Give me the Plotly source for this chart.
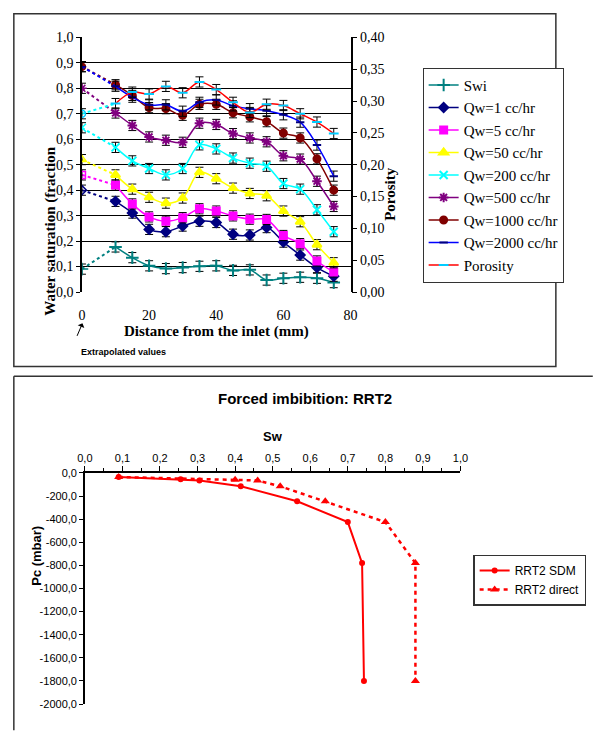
import plotly.graph_objects as go

W, H = 595, 731

# top chart: water saturation profiles along the core
DIST = [10, 15, 20, 25, 30, 35, 40, 45, 50, 55, 60, 65, 70, 75]
SWI = [0.177, 0.135, 0.103, 0.092, 0.096, 0.101, 0.103, 0.085, 0.087, 0.047, 0.054, 0.058, 0.054, 0.037]
QW1 = [0.356, 0.310, 0.246, 0.237, 0.259, 0.278, 0.273, 0.227, 0.224, 0.253, 0.196, 0.145, 0.096, 0.062]
QW5 = [0.420, 0.346, 0.295, 0.278, 0.292, 0.327, 0.318, 0.299, 0.286, 0.285, 0.222, 0.190, 0.122, 0.079]
QW50 = [0.460, 0.404, 0.372, 0.349, 0.369, 0.470, 0.445, 0.408, 0.387, 0.378, 0.318, 0.276, 0.186, 0.115]
QW200 = [0.568, 0.515, 0.485, 0.460, 0.485, 0.578, 0.562, 0.526, 0.506, 0.494, 0.426, 0.404, 0.323, 0.237]
QW500 = [0.703, 0.654, 0.609, 0.596, 0.588, 0.663, 0.658, 0.622, 0.605, 0.590, 0.535, 0.522, 0.435, 0.336]
QW1000 = [0.814, 0.772, 0.724, 0.720, 0.694, 0.737, 0.737, 0.704, 0.688, 0.669, 0.624, 0.605, 0.523, 0.400]
QW2000 = [0.808, 0.765, 0.735, 0.735, 0.710, 0.745, 0.754, 0.731, 0.720, 0.712, 0.696, 0.667, 0.577, 0.455]
POROSITY = [0.296, 0.314, 0.311, 0.323, 0.313, 0.330, 0.318, 0.298, 0.282, 0.295, 0.293, 0.280, 0.267, 0.249]

# extrapolated values at the inlet (x = 0)
EXTRAP = {
    "Swi": 0.09, "Qw=1 cc/hr": 0.40, "Qw=5 cc/hr": 0.46, "Qw=50 cc/hr": 0.52,
    "Qw=200 cc/hr": 0.645, "Qw=500 cc/hr": 0.80, "Qw=1000 cc/hr": 0.885,
    "Qw=2000 cc/hr": 0.885, "Porosity": 0.28,
}

# bottom chart: forced imbibition capillary pressure
SDM_SW = [0.09, 0.255, 0.305, 0.415, 0.565, 0.700, 0.738, 0.743]
SDM_PC = [-35, -55, -65, -115, -245, -425, -780, -1800]
DIR_SW = [0.09, 0.40, 0.46, 0.52, 0.64, 0.80, 0.88, 0.88]
DIR_PC = [-35, -60, -65, -115, -245, -425, -780, -1800]
PC_TICKS = list(range(0, -2001, -200))
PC_LABELS = [f"{v:.1f}".replace(".", ",") for v in PC_TICKS]

SERIES = [
    ("Swi", SWI, "#008080", "#008080", "cross-thin-open", 9),
    ("Qw=1 cc/hr", QW1, "#000080", "#000080", "diamond", 7),
    ("Qw=5 cc/hr", QW5, "#ff00ff", "#ff00ff", "square", 7),
    ("Qw=50 cc/hr", QW50, "#ffff00", "#ffff00", "triangle-up", 8),
    ("Qw=200 cc/hr", QW200, "#00ffff", "#00ffff", "x-thin-open", 8),
    ("Qw=500 cc/hr", QW500, "#800080", "#800080", "asterisk-open", 8),
    ("Qw=1000 cc/hr", QW1000, "#800000", "#800000", "circle", 7),
    ("Qw=2000 cc/hr", QW2000, "#0000ff", "#000080", "line-ew-open", 6),
    ("Porosity", POROSITY, "#ff0000", "#00ccff", "line-ew-open", 7),
]

SERIF = "Liberation Serif"
SANS = "Liberation Sans"


def px(x):
    return x / W


def py(y):
    return 1 - y / H


def start_marker(name, symbol):
    if name == "Porosity":
        return "circle-open"
    if name == "Qw=1000 cc/hr" or symbol.endswith("open"):
        return symbol
    return symbol + "-open"


fig = go.Figure()

for name, vals, line_c, mark_c, symbol, size in SERIES:
    yax = "y2" if name == "Porosity" else "y"
    err = 0.008 if name == "Porosity" else 0.02
    ext = EXTRAP[name]
    # dotted extrapolation to the inlet
    fig.add_trace(go.Scatter(
        x=[0, DIST[0]], y=[ext, vals[0]], yaxis=yax, mode="lines",
        line=dict(color="#00ffff" if name == "Porosity" else line_c, dash="dot", width=2),
        showlegend=False, hoverinfo="skip",
    ))
    fig.add_trace(go.Scatter(
        x=[0], y=[ext], yaxis=yax, mode="markers",
        marker=dict(symbol=start_marker(name, symbol), size=size, color=mark_c,
                    line=dict(width=1.5, color=mark_c)),
        error_y=dict(type="constant", value=err, color="black", thickness=1, width=4),
        showlegend=False, hoverinfo="skip",
    ))
    fig.add_trace(go.Scatter(
        x=DIST, y=vals, yaxis=yax, name=name, mode="lines+markers",
        line=dict(color=line_c, width=1.5, shape="spline"),
        marker=dict(symbol=symbol, size=size, color=mark_c, line=dict(width=2, color=mark_c)),
        error_y=dict(type="constant", value=err, color="black", thickness=1, width=4),
        legend="legend",
    ))

fig.add_trace(go.Scatter(
    x=SDM_SW, y=SDM_PC, xaxis="x2", yaxis="y3", name="RRT2 SDM", mode="lines+markers",
    line=dict(color="#ff0000", width=2), marker=dict(symbol="circle", size=6, color="#ff0000"),
    legend="legend2",
))
fig.add_trace(go.Scatter(
    x=DIR_SW, y=DIR_PC, xaxis="x2", yaxis="y3", name="RRT2 direct", mode="lines+markers",
    line=dict(color="#ff0000", width=2.5, dash="4px,4px"),
    marker=dict(symbol="triangle-up", size=8, color="#ff0000"),
    legend="legend2",
))

bot_font = dict(family=SANS, size=11, color="black")
tick_serif = dict(family=SERIF, size=14, color="black")

fig.update_layout(
    width=W, height=H,
    margin=dict(l=0, r=0, t=0, b=0),
    paper_bgcolor="white", plot_bgcolor="rgba(0,0,0,0)",
    separators=", ",
    showlegend=True,
    xaxis=dict(
        domain=[px(76), px(352)], anchor="y", range=[0, 80], dtick=20,
        showgrid=False, zeroline=False, showline=False, ticks="",
        ticklabelstandoff=13, tickfont=tick_serif,
    ),
    yaxis=dict(
        domain=[py(291), py(31)], anchor="x", range=[0, 1], dtick=0.1, tickformat=".1f",
        showgrid=True, gridcolor="black", gridwidth=1, zeroline=False,
        showline=True, linecolor="black", linewidth=1.5, ticks="outside", ticklen=4,
        tickcolor="black", tickfont=tick_serif,
    ),
    yaxis2=dict(
        overlaying="y", side="right", anchor="x", range=[0, 0.4], dtick=0.05, tickformat=".2f",
        showgrid=False, zeroline=False, showline=True, linecolor="black", linewidth=1.5,
        ticks="outside", ticklen=5, tickcolor="black", tickfont=tick_serif,
    ),
    xaxis2=dict(
        domain=[px(79), px(465)], anchor="y3", side="top", range=[0, 1], dtick=0.1,
        tickformat=".1f", showgrid=False, zeroline=False, showline=True, linecolor="black",
        linewidth=1.5, ticks="outside", ticklen=5, tickcolor="black", tickfont=bot_font,
        minor=dict(dtick=0.05, ticks="outside", ticklen=3, tickcolor="black"),
    ),
    yaxis3=dict(
        domain=[py(711.7), py(475.7)], anchor="x2", range=[-2000, 0],
        tickvals=PC_TICKS, ticktext=PC_LABELS, showgrid=False, zeroline=False,
        showline=True, linecolor="black", linewidth=1.5, ticks="outside", ticklen=4,
        tickcolor="black", tickfont=bot_font,
    ),
    legend=dict(
        x=px(571), xanchor="right", y=py(62), yanchor="top", bgcolor="white",
        bordercolor="#333333", borderwidth=1, font=dict(family=SERIF, size=15, color="black"),
        tracegroupgap=0, traceorder="normal", itemwidth=30,
    ),
    legend2=dict(
        x=px(478), xanchor="left", y=py(559), yanchor="top", bgcolor="white",
        bordercolor="#333333", borderwidth=1.5, font=dict(family=SANS, size=12, color="black"),
    ),
)

fig.update_layout(
    shapes=[
        dict(type="rect", xref="paper", yref="paper", x0=px(6), x1=px(563), y0=py(367), y1=py(7),
             line=dict(color="#333333", width=1.5)),
        dict(type="line", xref="paper", yref="paper", x0=px(6), x1=1.01, y0=py(377), y1=py(377),
             line=dict(color="#333333", width=1.5)),
        dict(type="line", xref="paper", yref="paper", x0=px(6), x1=px(6), y0=-0.01, y1=py(377),
             line=dict(color="#333333", width=1.5)),
    ],
    annotations=[
        dict(text="<b>Water saturation (fraction</b>", xref="paper", yref="paper",
             x=px(33), y=py(140), textangle=-90, showarrow=False,
             font=dict(family=SERIF, size=15, color="black")),
        dict(text="<b>Porosity</b>", xref="paper", yref="paper",
             x=px(403), y=py(161), textangle=-90, showarrow=False,
             font=dict(family=SERIF, size=15, color="black")),
        dict(text="<b>Distance from the inlet (mm)</b>", xref="paper", yref="paper",
             x=px(214), y=py(331), showarrow=False,
             font=dict(family=SERIF, size=15, color="black")),
        dict(text="<b>Extrapolated values</b>", xref="paper", yref="paper",
             x=px(73), y=py(352), showarrow=False,
             font=dict(family=SANS, size=9, color="black")),
        dict(text="", xref="paper", yref="paper", x=px(76.5), y=py(323),
             ax=-6, ay=14, showarrow=True, arrowhead=1, arrowsize=1.2, arrowwidth=1,
             arrowcolor="black"),
        dict(text="<b>Forced imbibition: RRT2</b>", xref="paper", yref="paper",
             x=px(305), y=py(400), showarrow=False,
             font=dict(family=SANS, size=15, color="black")),
        dict(text="<b>Sw</b>", xref="paper", yref="paper",
             x=px(272), y=py(439), showarrow=False,
             font=dict(family=SANS, size=13, color="black")),
        dict(text="<b>Pc (mbar)</b>", xref="paper", yref="paper",
             x=px(20), y=py(593), textangle=-90, showarrow=False,
             font=dict(family=SANS, size=13, color="black")),
    ],
)

# drop the default page margin so the figure fills the 595x731 window exactly
fig.write_html(
    "out.html",
    config={"displayModeBar": False},
    post_script="document.body.style.margin = '0';",
)
